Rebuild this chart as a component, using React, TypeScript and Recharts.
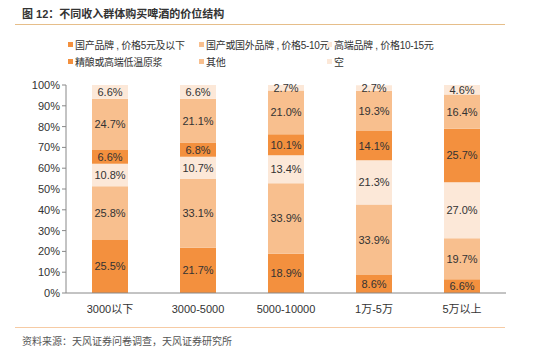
import { BarChart, Bar, XAxis, YAxis, LabelList } from "recharts";

const categories = ["3000以下", "3000-5000", "5000-10000", "1万-5万", "5万以上"];

const seriesNames = [
  "国产品牌 , 价格5元及以下",
  "国产或国外品牌 , 价格5-10元",
  "高端品牌 , 价格10-15元",
  "精酿或高端低温原浆",
  "其他",
  "空",
];

const budget = [25.5, 21.7, 18.9, 8.6, 6.6];
const midPrice = [25.8, 33.1, 33.9, 33.9, 19.7];
const premium = [10.8, 10.7, 13.4, 21.3, 27.0];
const craft = [6.6, 6.8, 10.1, 14.1, 25.7];
const other = [24.7, 21.1, 21.0, 19.3, 16.4];
const blank = [6.6, 6.6, 2.7, 2.7, 4.6];

const yTicks = [0, 10, 20, 30, 40, 50, 60, 70, 80, 90, 100];

const colors = ["#F3903E", "#F8BF8E", "#FCE8D8", "#F3903E", "#F8BF8E", "#FCE8D8"];
const keys = ["budget", "midPrice", "premium", "craft", "other", "blank"];

const data = categories.map((name, i) => ({
  name,
  budget: budget[i],
  midPrice: midPrice[i],
  premium: premium[i],
  craft: craft[i],
  other: other[i],
  blank: blank[i],
}));

const font = "Arial, 'Liberation Sans', 'Noto Sans CJK SC', sans-serif";

const legendPos = [
  { left: 68, top: 37 },
  { left: 199, top: 37 },
  { left: 327, top: 37 },
  { left: 68, top: 54 },
  { left: 199, top: 54 },
  { left: 327, top: 54 },
];

export default function App() {
  return (
    <div style={{ position: "relative", width: 550, height: 355, margin: -8, background: "#fff", fontFamily: font, color: "#333" }}>
      {/* title */}
      <div style={{ position: "absolute", left: 22, top: 5, fontSize: 11, color: "#333", fontWeight: 600 }}>
        图 12：不同收入群体购买啤酒的价位结构
      </div>
      <div style={{ position: "absolute", left: 15, top: 24, width: 490, height: 1, background: "#E6BE8A" }} />

      {/* legend */}
      {seriesNames.map((s, i) => (
        <div key={s} style={{ position: "absolute", left: legendPos[i].left, top: legendPos[i].top, fontSize: 10, display: "flex", alignItems: "center", whiteSpace: "nowrap", letterSpacing: -0.3 }}>
          <span style={{ width: 5, height: 5, background: colors[i], marginRight: 2, display: "inline-block" }} />
          {s}
        </div>
      ))}

      <div style={{ position: "absolute", left: 0, top: 0 }}>
        <BarChart width={550} height={355} data={data} margin={{ top: 85, right: 44, bottom: 32, left: 0 }} barSize={36}>
          <XAxis
            dataKey="name"
            axisLine={{ stroke: "#888" }}
            tickLine={false}
            tick={{ fontSize: 11, fill: "#333", fontFamily: font }}
            tickMargin={6}
          />
          <YAxis
            width={66}
            domain={[0, 100]}
            ticks={yTicks}
            interval={0}
            tickFormatter={(v: number) => `${v}%`}
            axisLine={{ stroke: "#888" }}
            tickLine={{ stroke: "#888" }}
            tickSize={4}
            tick={{ fontSize: 11, fill: "#333", fontFamily: font }}
          />
          {keys.map((k, i) => (
            <Bar key={k} dataKey={k} name={seriesNames[i]} stackId="a" fill={colors[i]} isAnimationActive={false}>
              <LabelList
                dataKey={k}
                position="center"
                formatter={(v: number) => `${v.toFixed(1)}%`}
                style={{ fontSize: 11, fill: "#333", fontFamily: font }}
              />
            </Bar>
          ))}
        </BarChart>
      </div>

      {/* source */}
      <div style={{ position: "absolute", left: 15, top: 327, width: 490, height: 1, background: "#F6CBA4" }} />
      <div style={{ position: "absolute", left: 22, top: 333, fontSize: 10, color: "#555" }}>
        资料来源：天风证券问卷调查，天风证券研究所
      </div>
    </div>
  );
}
